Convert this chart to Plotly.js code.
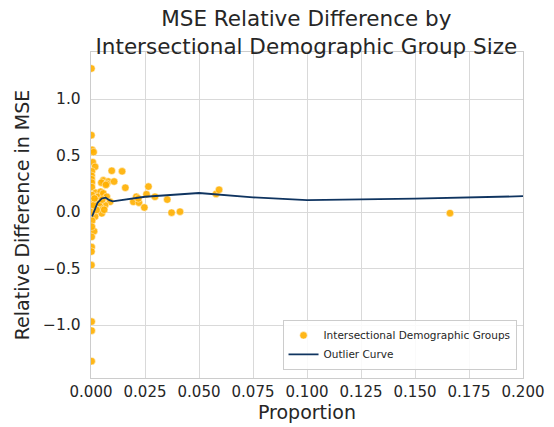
<!DOCTYPE html>
<html>
<head>
<meta charset="utf-8">
<script src="https://cdn.plot.ly/plotly-3.0.1.min.js"></script>
<style>html,body{margin:0;padding:0;background:#fff;}#chart{width:554px;height:427px;}</style>
</head>
<body>
<div id="chart"></div>
<script>
// Scatter: intersectional demographic groups (proportion, relative MSE difference)
const groupProportion = [
  0.0002,0.0002,0.0005,0.0012,0.0008,0.0019,0.0004,0.0003,0.0003,0.0004,0.0004,0.0022,0.0025,0.0004,0.0005,0.0004,0.0019,0.0004,0.0005,0.0014,0.0004,0.0003,0.0003,0.0002,0.0002,0.0003,0.0003,
  0.0057,0.0080,0.0107,0.0073,0.0048,0.0096,0.0144,0.0159,0.0069,
  0.0045,0.0034,0.0057,0.0073,0.0088,0.0065,0.0042,0.0050,0.0026,0.0030,0.0038,0.0052,0.0061,0.0012,0.0016,
  0.0196,0.0222,0.0247,0.0210,0.0266,0.0257,0.0296,0.0353,0.0373,0.0412,0.0219,
  0.0579,0.0593,0.1662,0.0003
];
const relDiff = [
  1.27,0.68,0.55,0.53,0.44,0.40,0.36,0.32,0.29,0.26,0.22,0.17,0.135,0.15,0.10,0.05,-0.04,0.00,-0.077,-0.17,-0.13,-0.22,-0.31,-0.35,-0.47,-0.97,-1.05,
  0.28,0.27,0.27,0.25,0.26,0.365,0.36,0.215,0.24,
  0.18,0.135,0.165,0.135,0.09,0.06,0.047,-0.012,0.018,0.10,0.08,0.11,0.02,0.06,0.12,
  0.09,0.083,0.04,0.135,0.225,0.157,0.135,0.11,-0.006,0.003,0.12,
  0.16,0.197,-0.01,-1.32
];

// Outlier curve
const curveProportion = [0.0005,0.0030,0.0050,0.0068,0.0085,0.0100,0.0250,0.0500,0.0750,0.1000,0.1500,0.2000];
const curveValue      = [-0.04,0.08,0.12,0.127,0.105,0.095,0.135,0.168,0.13,0.105,0.118,0.14];

const xTicks = [0,0.025,0.05,0.075,0.1,0.125,0.15,0.175,0.2];
const xTickLabels = ['0.000','0.025','0.050','0.075','0.100','0.125','0.150','0.175','0.200'];
const yTicks = [-1.0,-0.5,0.0,0.5,1.0];
const yTickLabels = ['\u22121.0','\u22120.5','0.0','0.5','1.0'];

const font = 'DejaVu Sans, sans-serif';
const traces = [
  {
    x: groupProportion, y: relDiff, type: 'scatter', mode: 'markers',
    name: 'Intersectional Demographic Groups',
    marker: {color: '#ffb000', size: 7.5, opacity: 0.9, line: {color: '#ffffff', width: 0.5}}
  },
  {
    x: curveProportion, y: curveValue, type: 'scatter', mode: 'lines',
    name: 'Outlier Curve',
    line: {color: '#0f3460', width: 1.8}
  }
];

const layout = {
  width: 554, height: 427,
  margin: {l: 91, r: 31, t: 52, b: 49},
  paper_bgcolor: '#ffffff', plot_bgcolor: '#ffffff',
  font: {family: font, color: '#262626'},
  title: {
    text: 'MSE Relative Difference by<br>Intersectional Demographic Group Size',
    font: {family: font, size: 21.5, color: '#262626'},
    x: 0.553, xanchor: 'center', yref: 'container', y: 0.94, yanchor: 'top'
  },
  xaxis: {
    range: [0, 0.2], tickvals: xTicks, ticktext: xTickLabels,
    showgrid: true, gridcolor: '#d9d9d9', gridwidth: 1,
    zeroline: false, showline: true, linecolor: '#cccccc', linewidth: 1.2, mirror: true,
    ticks: '', tickfont: {size: 15, color: '#262626'},
    title: {text: 'Proportion', font: {size: 19, color: '#262626'}, standoff: 4}
  },
  yaxis: {
    range: [-1.469, 1.416], tickvals: yTicks, ticktext: yTickLabels,
    showgrid: true, gridcolor: '#d9d9d9', gridwidth: 1,
    zeroline: false, showline: true, linecolor: '#cccccc', linewidth: 1.2, mirror: true,
    ticks: '', tickfont: {size: 15.5, color: '#262626'}, ticklabelstandoff: 6,
    title: {text: 'Relative Difference in MSE', font: {size: 19, color: '#262626'}, standoff: 8}
  },
  legend: {
    x: 0.985, y: 0.025, xanchor: 'right', yanchor: 'bottom',
    bgcolor: 'rgba(255,255,255,0.85)', bordercolor: '#cccccc', borderwidth: 1,
    font: {size: 10.5, color: '#262626'}, tracegroupgap: 0, itemwidth: 30
  },
  showlegend: true
};

Plotly.newPlot('chart', traces, layout, {displayModeBar: false, staticPlot: true});
</script>
</body>
</html>
